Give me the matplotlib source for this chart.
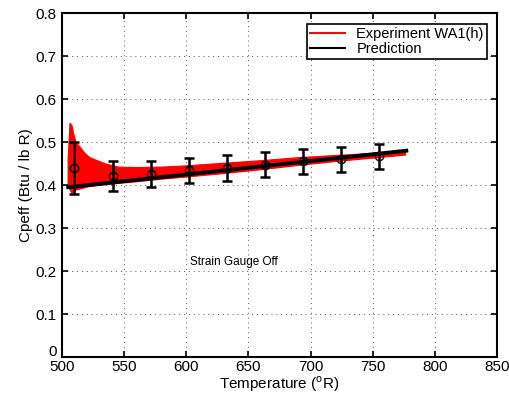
import matplotlib.pyplot as plt
import matplotlib.transforms as mtransforms
from matplotlib.lines import Line2D

plt.rcParams['font.family'] = ['Liberation Sans', 'DejaVu Sans']
plt.rcParams['mathtext.fontset'] = 'custom'
plt.rcParams['mathtext.rm'] = 'Liberation Sans'

# measured band (upper / lower envelope of the noisy signal)
temp_exp = [504.5, 506, 507.5, 509, 511, 514, 518, 522, 528, 535, 545, 560,
            580, 600, 630, 660, 690, 720, 750, 776]
cp_upper = [0.46, 0.545, 0.54, 0.52, 0.50, 0.49, 0.475, 0.465, 0.458, 0.45, 0.443, 0.442,
            0.443, 0.446, 0.452, 0.458, 0.465, 0.47, 0.475, 0.477]
cp_lower = [0.40, 0.39, 0.383, 0.383, 0.39, 0.392, 0.395, 0.398, 0.40, 0.402, 0.405, 0.409,
            0.415, 0.42, 0.428, 0.437, 0.447, 0.456, 0.464, 0.471]

# prediction line
temp_pred = [505, 777]
cp_pred = [0.395, 0.48]

# averaged points with error bars
temp_avg = [509.8, 540.8, 571.3, 601.9, 632.5, 663.0, 693.6, 724.2, 754.8]
cp_avg = [0.44, 0.421, 0.426, 0.434, 0.44, 0.447, 0.455, 0.46, 0.467]
cp_err = [0.06, 0.034, 0.031, 0.03, 0.03, 0.029, 0.029, 0.029, 0.029]

fig = plt.figure(figsize=(5.1, 3.98), dpi=100)
ax = fig.add_axes([0.1216, 0.103, 0.853, 0.864])

ax.fill_between(temp_exp, cp_lower, cp_upper, color='red', lw=0.8, edgecolor='red')
ax.plot(temp_pred, cp_pred, color='black', lw=2.8)
ax.errorbar(temp_avg, cp_avg, yerr=cp_err, fmt='o', mfc='none', mec='black',
            ecolor='black', ms=6, elinewidth=1.8, capsize=3.5, capthick=1.8, color='black')

ax.set_xlim(500, 850)
ax.set_ylim(0, 0.8)
ax.set_xticks(range(500, 851, 50))
ax.set_yticks([0, 0.1, 0.2, 0.3, 0.4, 0.5, 0.6, 0.7, 0.8])
ax.set_yticklabels(['0', '0.1', '0.2', '0.3', '0.4', '0.5', '0.6', '0.7', '0.8'])
ax.grid(True, linestyle=(0, (1, 4)), color='#555555', lw=0.7)
ax.tick_params(direction='in', labelsize=11, width=1.2, length=4, top=True, right=True)
ax.tick_params(axis='x', pad=2.5)
ax.tick_params(axis='y', pad=4)
for s in ax.spines.values():
    s.set_linewidth(1.5)

# lift the "0" label so it sits above the 500 label
zero_lbl = ax.get_yticklabels()[0]
zero_lbl.set_transform(zero_lbl.get_transform() +
                       mtransforms.ScaledTranslation(0, 5 / 72, fig.dpi_scale_trans))

ax.set_xlabel(r'Temperature ($^{\mathrm{o}}$R)', fontsize=11, labelpad=0)
ax.set_ylabel('Cpeff (Btu / lb R)', fontsize=11, labelpad=2)
ax.text(603, 0.22, 'Strain Gauge Off', fontsize=8.5, va='center')

handles = [Line2D([], [], color='red', lw=1.5), Line2D([], [], color='black', lw=1.5)]
leg = ax.legend(handles, ['Experiment WA1(h)', 'Prediction'], loc='upper right',
                fontsize=10.5, fancybox=False, framealpha=1, edgecolor='black',
                borderpad=0.2, labelspacing=0.1, handlelength=2.4,
                bbox_to_anchor=(0.993, 0.99))
leg.get_frame().set_linewidth(1.2)

fig.savefig('out.png', dpi=100)
